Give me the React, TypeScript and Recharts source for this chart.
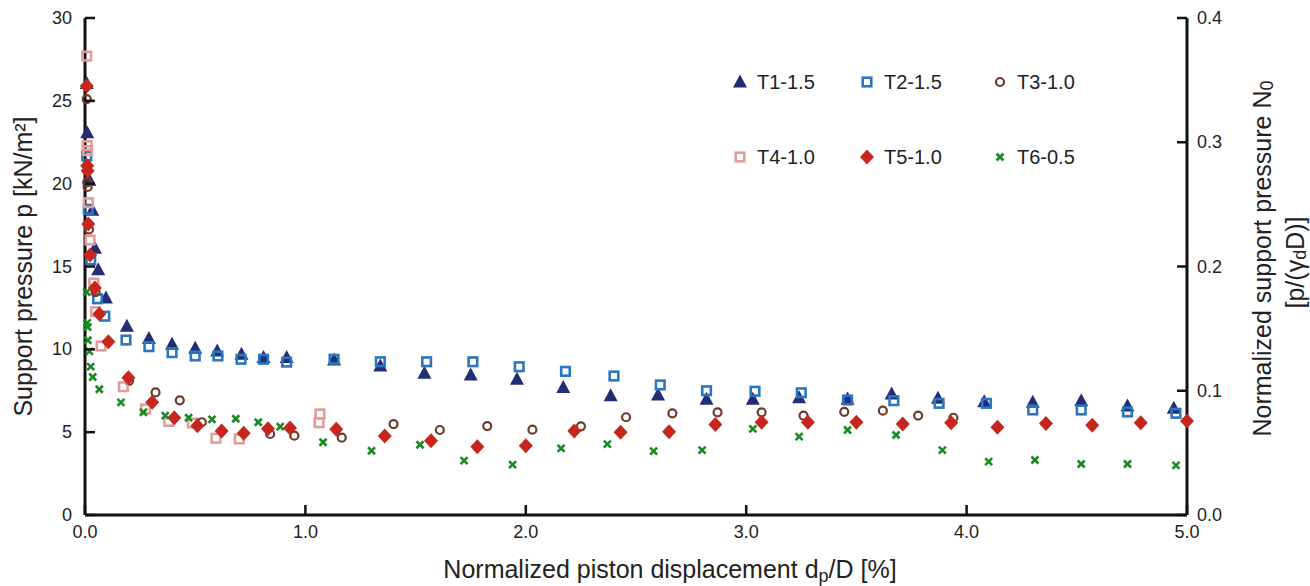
import React from 'react';
import { ScatterChart, Scatter, XAxis, YAxis, Label } from 'recharts';

const FONT = '"Liberation Sans", Arial, Helvetica, sans-serif';
const TEXT = '#222';
const AXIS = '#111';

// ---- data: [normalized displacement dp/D (%), support pressure p (kN/m2)] ----
const T1_DATA: [number, number][] = [
  [0.008, 26.05], [0.01, 23.07], [0.02, 20.2], [0.033, 18.4], [0.045, 16.1], [0.06, 14.8],
  [0.095, 13.1], [0.19, 11.4], [0.29, 10.66], [0.395, 10.3], [0.5, 10.06], [0.6, 9.9],
  [0.71, 9.7], [0.81, 9.5], [0.915, 9.5], [1.13, 9.35], [1.34, 9.0], [1.54, 8.55],
  [1.75, 8.45], [1.96, 8.2], [2.17, 7.7], [2.385, 7.2], [2.6, 7.24], [2.82, 6.98],
  [3.03, 6.98], [3.24, 7.08], [3.46, 7.0], [3.66, 7.3], [3.87, 7.04], [4.08, 6.84],
  [4.3, 6.8], [4.52, 6.9], [4.73, 6.58], [4.94, 6.44],
];
const T2_DATA: [number, number][] = [
  [0.008, 21.67], [0.015, 18.45], [0.026, 15.4], [0.057, 13.05], [0.09, 12.0], [0.186, 10.56],
  [0.29, 10.16], [0.395, 9.8], [0.5, 9.6], [0.603, 9.6], [0.708, 9.4], [0.81, 9.4],
  [0.915, 9.23], [1.13, 9.4], [1.34, 9.25], [1.55, 9.25], [1.76, 9.25], [1.97, 8.95],
  [2.18, 8.67], [2.4, 8.39], [2.61, 7.85], [2.82, 7.5], [3.04, 7.47], [3.25, 7.38],
  [3.46, 6.94], [3.67, 6.9], [3.875, 6.74], [4.09, 6.74], [4.3, 6.34], [4.52, 6.34],
  [4.73, 6.22], [4.95, 6.14],
];
const T3_DATA: [number, number][] = [
  [0.008, 25.1], [0.01, 20.08], [0.012, 19.8], [0.018, 17.24], [0.048, 13.45], [0.2, 8.1],
  [0.32, 7.4], [0.43, 6.92], [0.53, 5.6], [0.84, 4.89], [0.95, 4.79], [1.165, 4.67],
  [1.4, 5.49], [1.61, 5.13], [1.825, 5.37], [2.03, 5.15], [2.25, 5.35], [2.455, 5.9],
  [2.665, 6.14], [2.87, 6.2], [3.07, 6.2], [3.26, 6.0], [3.445, 6.23], [3.62, 6.3],
  [3.78, 6.0], [3.94, 5.87],
];
const T4_DATA: [number, number][] = [
  [0.008, 27.7], [0.01, 22.3], [0.012, 22.0], [0.015, 18.85], [0.023, 16.6], [0.04, 14.0],
  [0.048, 12.27], [0.073, 10.2], [0.174, 7.74], [0.275, 6.4], [0.38, 5.65], [0.487, 5.55],
  [0.594, 4.63], [0.7, 4.59], [1.062, 5.57], [1.066, 6.1],
];
const T5_DATA: [number, number][] = [
  [0.008, 25.9], [0.01, 21.08], [0.012, 20.78], [0.015, 17.56], [0.023, 15.7], [0.045, 13.7],
  [0.065, 12.13], [0.106, 10.46], [0.197, 8.29], [0.305, 6.8], [0.405, 5.87], [0.51, 5.39],
  [0.62, 5.07], [0.72, 4.93], [0.83, 5.2], [0.93, 5.25], [1.14, 5.17], [1.36, 4.77],
  [1.57, 4.48], [1.78, 4.12], [2.0, 4.18], [2.22, 5.07], [2.43, 5.0], [2.65, 5.03],
  [2.86, 5.47], [3.07, 5.6], [3.28, 5.6], [3.5, 5.6], [3.71, 5.5], [3.93, 5.57],
  [4.14, 5.29], [4.36, 5.53], [4.57, 5.41], [4.79, 5.57], [5.0, 5.67],
];
const T6_DATA: [number, number][] = [
  [0.008, 13.45], [0.01, 11.6], [0.012, 11.35], [0.013, 10.55], [0.02, 9.88], [0.026, 8.96],
  [0.035, 8.33], [0.065, 7.59], [0.163, 6.8], [0.265, 6.2], [0.364, 6.0], [0.47, 5.87],
  [0.576, 5.77], [0.684, 5.81], [0.786, 5.6], [0.886, 5.33], [1.08, 4.39], [1.3, 3.88],
  [1.52, 4.24], [1.72, 3.28], [1.94, 3.04], [2.16, 4.02], [2.37, 4.28], [2.58, 3.86],
  [2.8, 3.92], [3.03, 5.2], [3.24, 4.73], [3.46, 5.13], [3.68, 4.83], [3.89, 3.92],
  [4.1, 3.22], [4.31, 3.32], [4.52, 3.08], [4.73, 3.08], [4.95, 3.0],
];

const X_TICKS = [0, 1, 2, 3, 4, 5];
const Y_TICKS = [0, 5, 10, 15, 20, 25, 30];
const N_TICKS = [0, 0.1, 0.2, 0.3, 0.4];

type ShapeKind = 'triangle' | 'square' | 'circle' | 'diamond' | 'cross';

const SERIES: { name: string; color: string; kind: ShapeKind; data: [number, number][] }[] = [
  { name: 'T1-1.5', color: '#222d75', kind: 'triangle', data: T1_DATA },
  { name: 'T2-1.5', color: '#2b76bf', kind: 'square', data: T2_DATA },
  { name: 'T3-1.0', color: '#6e3b2e', kind: 'circle', data: T3_DATA },
  { name: 'T4-1.0', color: '#e39c9c', kind: 'square', data: T4_DATA },
  { name: 'T5-1.0', color: '#c6261d', kind: 'diamond', data: T5_DATA },
  { name: 'T6-0.5', color: '#1a8a22', kind: 'cross', data: T6_DATA },
];

function Marker({ kind, cx, cy, color }: { kind: ShapeKind; cx: number; cy: number; color: string }) {
  if (cx == null || cy == null || isNaN(cx) || isNaN(cy)) return null;
  switch (kind) {
    case 'triangle':
      return <path d={`M${cx},${cy - 7.5} L${cx + 7},${cy + 5.5} L${cx - 7},${cy + 5.5} Z`} fill={color} />;
    case 'square':
      return <rect x={cx - 4.3} y={cy - 4.3} width={8.6} height={8.6} fill="none" stroke={color} strokeWidth={2.6} />;
    case 'circle':
      return <circle cx={cx} cy={cy} r={4} fill="none" stroke={color} strokeWidth={2.2} />;
    case 'diamond':
      return <path d={`M${cx},${cy - 7.5} L${cx + 7},${cy} L${cx},${cy + 7.5} L${cx - 7},${cy} Z`} fill={color} />;
    case 'cross':
      return (
        <g stroke={color} strokeWidth={2.6} strokeLinecap="butt">
          <line x1={cx - 3.5} y1={cy - 3.5} x2={cx + 3.5} y2={cy + 3.5} />
          <line x1={cx - 3.5} y1={cy + 3.5} x2={cx + 3.5} y2={cy - 3.5} />
        </g>
      );
  }
  return null;
}

const LEFT_MARGIN = 13;
const BOTTOM_MARGIN = 10;
const RIGHT_MARGIN = 10;
const TICK_LEN = 10;
const TICK_FONT = 18;
const TITLE_FONT = 25;
const SUB_FONT = 18;

const LeftTick = (props: any) => {
  const { x, y, payload } = props;
  const ax = x + LEFT_MARGIN;
  return (
    <g>
      <line x1={ax} x2={ax + TICK_LEN} y1={y} y2={y} stroke={AXIS} strokeWidth={2.5} />
      <text x={x} y={y} textAnchor="end" dominantBaseline="central" fontSize={TICK_FONT} fill={TEXT} fontFamily={FONT}>
        {payload.value}
      </text>
    </g>
  );
};

const RightTick = (props: any) => {
  const { x, y, payload } = props;
  const ax = x - RIGHT_MARGIN;
  return (
    <g>
      <line x1={ax} x2={ax - TICK_LEN} y1={y} y2={y} stroke={AXIS} strokeWidth={2.5} />
      <text x={x} y={y} textAnchor="start" dominantBaseline="central" fontSize={TICK_FONT} fill={TEXT} fontFamily={FONT}>
        {Number(payload.value).toFixed(1)}
      </text>
    </g>
  );
};

const BottomTick = (props: any) => {
  const { x, y, payload } = props;
  const ay = y - BOTTOM_MARGIN;
  return (
    <g>
      <line x1={x} x2={x} y1={ay} y2={ay - TICK_LEN} stroke={AXIS} strokeWidth={2.5} />
      <text x={x} y={y} dy="0.7em" textAnchor="middle" fontSize={TICK_FONT} fill={TEXT} fontFamily={FONT}>
        {Number(payload.value).toFixed(1)}
      </text>
    </g>
  );
};

const LeftLabel = (props: any) => {
  const vb = props.viewBox || {};
  const cx = (vb.x ?? 0) + 23;
  const cy = (vb.y ?? 0) + (vb.height ?? 0) / 2;
  return (
    <text x={cx} y={cy} transform={`rotate(-90, ${cx}, ${cy})`} textAnchor="middle" dominantBaseline="central"
      fontSize={TITLE_FONT} fill={TEXT} fontFamily={FONT}>
      Support pressure p [kN/m²]
    </text>
  );
};

const RightLabel = (props: any) => {
  const vb = props.viewBox || {};
  const cy = (vb.y ?? 0) + (vb.height ?? 0) / 2 - 8;
  const x1 = (vb.x ?? 0) + 75;
  const x2 = (vb.x ?? 0) + 108;
  return (
    <g fontSize={TITLE_FONT} fill={TEXT} fontFamily={FONT}>
      <text x={x1} y={cy} transform={`rotate(-90, ${x1}, ${cy})`} textAnchor="middle" dominantBaseline="central">
        Normalized support pressure N<tspan dy={5} fontSize={SUB_FONT}>0</tspan>
      </text>
      <text x={x2} y={cy + 4} transform={`rotate(-90, ${x2}, ${cy + 4})`} textAnchor="middle" dominantBaseline="central">
        [p/(γ<tspan dy={5} fontSize={SUB_FONT}>d</tspan><tspan dy={-5}>D)]</tspan>
      </text>
    </g>
  );
};

const BottomLabel = (props: any) => {
  const vb = props.viewBox || {};
  const cx = (vb.x ?? 0) + (vb.width ?? 0) / 2 + 34;
  const y = (vb.y ?? 0) + 63;
  return (
    <text x={cx} y={y} textAnchor="middle" fontSize={TITLE_FONT} fill={TEXT} fontFamily={FONT}>
      Normalized piston displacement d<tspan dy={4} fontSize={SUB_FONT}>p</tspan>
      <tspan dy={-4}>/D [%]</tspan>
    </text>
  );
};

const LEGEND_COLS = [740, 867, 1000];
const LEGEND_ROWS = [82, 157];

function LegendOverlay() {
  return (
    <svg width={1310} height={586} style={{ position: 'absolute', left: 0, top: 0, pointerEvents: 'none' }}>
      {SERIES.map((s, i) => {
        const cx = LEGEND_COLS[i % 3];
        const cy = LEGEND_ROWS[Math.floor(i / 3)];
        return (
          <g key={s.name}>
            <Marker kind={s.kind} cx={cx} cy={cy} color={s.color} />
            <text x={cx + 17} y={cy} dominantBaseline="central" fontSize={20} fill={TEXT} fontFamily={FONT}>
              {s.name}
            </text>
          </g>
        );
      })}
    </svg>
  );
}

export default function App() {
  return (
    <div style={{ position: 'absolute', left: 0, top: 0, width: 1310, height: 586, background: '#fff' }}>
      <ScatterChart width={1310} height={586} margin={{ top: 18, right: 0, bottom: 0, left: 0 }}>
        <XAxis
          type="number"
          dataKey="x"
          domain={[0, 5]}
          ticks={X_TICKS}
          height={71}
          tickSize={0}
          tickMargin={BOTTOM_MARGIN}
          tickLine={false}
          axisLine={{ stroke: AXIS, strokeWidth: 3 }}
          tick={<BottomTick />}
          interval={0}
        >
          <Label content={<BottomLabel />} />
        </XAxis>
        <YAxis
          yAxisId="p"
          type="number"
          dataKey="y"
          orientation="left"
          domain={[0, 30]}
          ticks={Y_TICKS}
          width={85}
          tickSize={0}
          tickMargin={LEFT_MARGIN}
          tickLine={false}
          axisLine={{ stroke: AXIS, strokeWidth: 3 }}
          tick={<LeftTick />}
          interval={0}
        >
          <Label content={<LeftLabel />} />
        </YAxis>
        <YAxis
          yAxisId="n"
          type="number"
          orientation="right"
          domain={[0, 0.4]}
          ticks={N_TICKS}
          width={123}
          tickSize={0}
          tickMargin={RIGHT_MARGIN}
          tickLine={false}
          axisLine={{ stroke: AXIS, strokeWidth: 3 }}
          tick={<RightTick />}
          interval={0}
          allowDataOverflow
        >
          <Label content={<RightLabel />} />
        </YAxis>
        {SERIES.map((s) => (
          <Scatter
            key={s.name}
            name={s.name}
            yAxisId="p"
            data={s.data.map(([x, y]) => ({ x, y }))}
            dataKey="y"
            isAnimationActive={false}
            shape={(p: any) => <Marker kind={s.kind} cx={p.cx} cy={p.cy} color={s.color} />}
          />
        ))}
      </ScatterChart>
      <LegendOverlay />
    </div>
  );
}
